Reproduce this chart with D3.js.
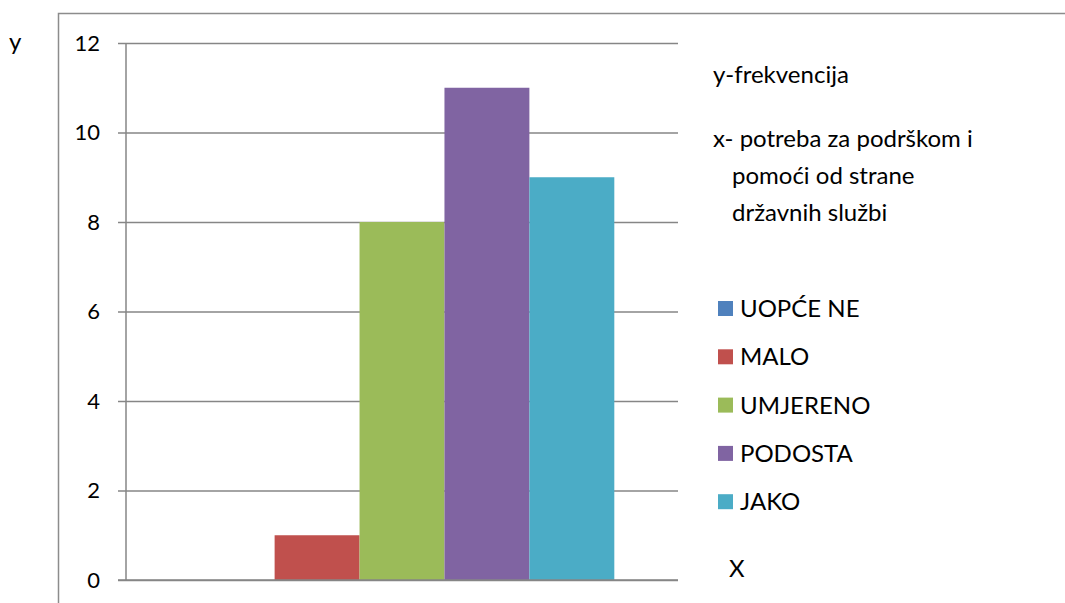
<!DOCTYPE html>
<html>
<head>
<meta charset="utf-8">
<script src="https://cdn.jsdelivr.net/npm/d3@7"></script>
<style>
  body { margin: 0; background: #fff; }
  svg { display: block; }
</style>
</head>
<body>
<script>
var series = ["UOPĆE NE", "MALO", "UMJERENO", "PODOSTA", "JAKO"];
var values = [0, 1, 8, 11, 9];
var colors = ["#4f81bd", "#c0504d", "#9bbb59", "#8064a2", "#4bacc6"];
var yTicks = [0, 2, 4, 6, 8, 10, 12];
var notes = ["y-frekvencija", "x- potreba za podrškom i", "pomoći od strane", "državnih službi"];

var font = "Lato, 'Open Sans', sans-serif";
var fs = "24px";

var canvas = d3.select("body")
    .append("svg")
    .attr("width", 1065)
    .attr("height", 603);

// outer frame (cut off on the right and bottom)
canvas.append("rect")
    .attr("x", 58.5)
    .attr("y", 13.5)
    .attr("width", 1100)
    .attr("height", 700)
    .attr("fill", "none")
    .attr("stroke", "#8c8c8c")
    .attr("stroke-width", 1.5);

var x = d3.scaleBand()
    .domain(series)
    .range([126, 678])
    .paddingInner(0)
    .paddingOuter(0.75);

var y = d3.scaleLinear()
    .domain([0, 12])
    .range([580, 43]);

// gridlines + ticks
var yAxis = d3.axisLeft(y)
    .tickValues(yTicks)
    .tickSize(-(678 - 118))
    .tickPadding(18)
    .tickFormat(d3.format("d"));

var gy = canvas.append("g")
    .attr("transform", "translate(118,0)")
    .call(yAxis);

gy.select(".domain").remove();
gy.selectAll(".tick line")
    .attr("stroke", "#868686")
    .attr("stroke-width", 1.5);
gy.selectAll(".tick text")
    .attr("x", -18)
    .attr("fill", "#000")
    .style("font-family", font)
    .style("font-size", "22px");

// vertical axis line
canvas.append("line")
    .attr("x1", 126).attr("x2", 126)
    .attr("y1", y(12)).attr("y2", y(0))
    .attr("stroke", "#868686")
    .attr("stroke-width", 1.5);

// bars
canvas.append("g")
    .selectAll("rect")
    .data(values)
    .enter()
        .append("rect")
        .attr("x", function (d, i) { return x(series[i]); })
        .attr("y", function (d) { return y(d); })
        .attr("width", x.bandwidth())
        .attr("height", function (d) { return y(0) - y(d); })
        .attr("fill", function (d, i) { return colors[i]; });

// redraw baseline on top
canvas.append("line")
    .attr("x1", 118).attr("x2", 678)
    .attr("y1", y(0)).attr("y2", y(0))
    .attr("stroke", "#868686")
    .attr("stroke-width", 1.5);

// y label
canvas.append("text")
    .attr("x", 9)
    .attr("y", 50)
    .text("y")
    .attr("fill", "#000")
    .style("font-family", font)
    .style("font-size", fs);

// notes on the right
var noteY = [83, 147, 184, 221];
var noteX = [713, 713, 732, 732];
canvas.append("g")
    .selectAll("text")
    .data(notes)
    .enter()
        .append("text")
        .attr("x", function (d, i) { return noteX[i]; })
        .attr("y", function (d, i) { return noteY[i]; })
        .text(function (d) { return d; })
        .attr("fill", "#000")
        .style("font-family", font)
        .style("font-size", fs);

// legend
var legend = canvas.append("g")
    .attr("transform", "translate(718,301)")
    .selectAll("g")
    .data(series)
    .enter()
        .append("g")
        .attr("transform", function (d, i) { return "translate(0," + i * 48.3 + ")"; });

legend.append("rect")
    .attr("width", 15)
    .attr("height", 15)
    .attr("fill", function (d, i) { return colors[i]; });

legend.append("text")
    .attr("x", 22)
    .attr("y", 16)
    .text(function (d) { return d; })
    .attr("fill", "#000")
    .style("font-family", font)
    .style("font-size", fs);

canvas.append("text")
    .attr("x", 729)
    .attr("y", 577)
    .text("X")
    .attr("fill", "#000")
    .style("font-family", font)
    .style("font-size", fs);
</script>
</body>
</html>
